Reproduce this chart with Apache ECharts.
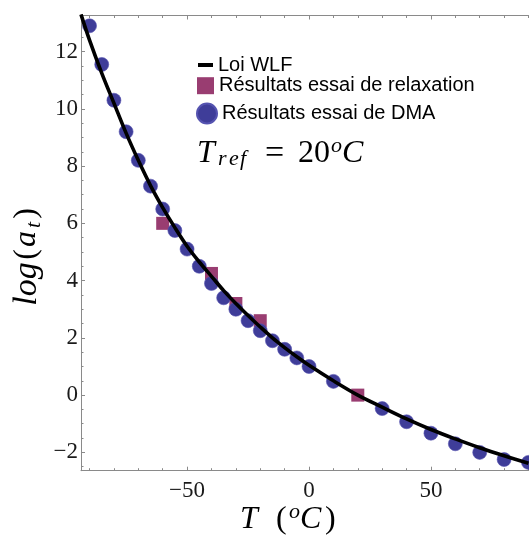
<!DOCTYPE html>
<html><head><meta charset="utf-8">
<script src="https://cdn.jsdelivr.net/npm/echarts@6/dist/echarts.min.js"></script>
<style>html,body{margin:0;padding:0;background:#fff}#c{width:529px;height:538px}</style>
</head><body><div id="c"></div>
<script>
// WLF law curve
const wlfT = [-93.5, -90, -85, -80, -75, -70, -65, -60, -55, -50, -45, -40, -35, -30, -25, -20, -15, -10, -5, 0, 10, 20, 30, 40, 50, 60, 70, 80, 90];
const wlfY = [13.3, 12.4, 11.25, 10.2, 9.15, 8.2, 7.32, 6.55, 5.85, 5.2, 4.65, 4.15, 3.65, 3.2, 2.78, 2.38, 2.0, 1.66, 1.34, 1.04, 0.5, 0.0, -0.42, -0.83, -1.2, -1.53, -1.84, -2.12, -2.38];
// relaxation results (squares)
const relaxT = [-60, -40, -30, -20, 20];
const relaxY = [6.0, 4.25, 3.2, 2.6, 0.0];
// DMA results (circles)
const dmaT = [-90, -85, -80, -75, -70, -65, -60, -55, -50, -45, -40, -35, -30, -25, -20, -15, -10, -5, 0, 10, 30, 40, 50, 60, 70, 80, 90];
const dmaY = [12.9, 11.55, 10.3, 9.2, 8.2, 7.3, 6.5, 5.75, 5.1, 4.5, 3.9, 3.4, 3.0, 2.6, 2.25, 1.9, 1.6, 1.3, 1.0, 0.48, -0.47, -0.93, -1.33, -1.7, -2.0, -2.25, -2.35];
// ticks
const xMajorTicks = [-50, 0, 50];
const xMinorTicks = [-90, -80, -70, -60, -40, -30, -20, -10, 10, 20, 30, 40, 60, 70, 80, 90];
const yMajorTicks = [-2, 0, 2, 4, 6, 8, 10, 12];
const yMinorTicks = [-2.5, -1.5, -1, -0.5, 0.5, 1, 1.5, 2.5, 3, 3.5, 4.5, 5, 5.5, 6.5, 7, 7.5, 8.5, 9, 9.5, 10.5, 11, 11.5, 12.5, 13];

const names = ['Loi WLF', 'Résultats essai de relaxation', 'Résultats essai de DMA'];
const X_MIN = -93.5, X_MAX = 90, Y_MIN = -2.64, Y_MAX = 13.26;
const AX = '#8a8a8a';
const fmt = v => String(v).replace('-', '\u2212');
const zip = (a, b) => a.map((v, i) => [v, b[i]]);

const serif = 'Liberation Serif';
const baseX = (pos, ticks, len, showLine, labels) => ({
  type: 'value', position: pos, min: X_MIN, max: X_MAX,
  axisLine: { show: showLine, onZero: false, lineStyle: { color: AX, width: 1 } },
  axisTick: { show: true, inside: true, length: len, customValues: ticks, lineStyle: { color: AX, width: 1 } },
  axisLabel: labels ? { show: true, customValues: xMajorTicks, formatter: fmt, margin: 9, fontFamily: serif, fontSize: 23, color: '#1a1a1a' } : { show: false },
  splitLine: { show: false }
});
const baseY = (ticks, len, showLine, labels) => ({
  type: 'value', position: 'left', min: Y_MIN, max: Y_MAX,
  axisLine: { show: showLine, onZero: false, lineStyle: { color: AX, width: 1 } },
  axisTick: { show: true, inside: true, length: len, customValues: ticks, lineStyle: { color: AX, width: 1 } },
  axisLabel: labels ? { show: true, customValues: yMajorTicks, formatter: fmt, margin: 3, fontFamily: serif, fontSize: 23, color: '#1a1a1a' } : { show: false },
  splitLine: { show: false }
});

const legendText = (extra) => Object.assign({ fontFamily: 'Liberation Sans', fontSize: 20, color: '#000', lineHeight: 20 }, extra || {});

const chart = echarts.init(document.getElementById('c'), null, { renderer: 'canvas' });
chart.setOption({
  animation: false,
  backgroundColor: '#fff',
  grid: { left: 81, right: 0.5, top: 15.5, bottom: 67.3, containLabel: false },
  xAxis: [
    baseX('bottom', xMajorTicks, 4, true, true),
    baseX('bottom', xMinorTicks, 2.5, false, false),
    baseX('top', xMajorTicks, 4, true, false),
    baseX('top', xMinorTicks, 2.5, false, false)
  ],
  yAxis: [
    baseY(yMajorTicks, 4, true, true),
    baseY(yMinorTicks, 2.5, false, false)
  ],
  legend: [
    { data: [{ name: names[0], icon: 'rect' }], left: 198, top: 55, padding: 0, itemWidth: 15, itemHeight: 4, selectedMode: false, textStyle: legendText() },
    { data: [{ name: names[1], icon: 'rect' }], left: 197, top: 71.7, padding: 0, itemWidth: 17, itemHeight: 17, selectedMode: false, textStyle: legendText({ padding: [8, 0, 0, 0] }) },
    { data: [{ name: names[2], icon: 'circle' }], left: 196, top: 102.5, padding: 0, itemWidth: 20, itemHeight: 20, selectedMode: false, textStyle: legendText({ padding: [2, 0, 0, 0] }) }
  ],
  series: [
    { name: names[1], type: 'scatter', symbol: 'rect', symbolSize: 13, data: zip(relaxT, relaxY), itemStyle: { color: '#993d71', opacity: 1 }, z: 2 },
    { name: names[2], type: 'scatter', symbol: 'circle', symbolSize: 14, data: zip(dmaT, dmaY), itemStyle: { color: '#3f3d99', opacity: 1, borderColor: '#5553b0', borderWidth: 0.6 }, z: 3 },
    { name: names[0], type: 'line', smooth: 0.35, symbol: 'none', showSymbol: false, clip: true, data: zip(wlfT, wlfY), color: '#000', lineStyle: { color: '#000', width: 3.6 }, z: 4 }
  ],
  graphic: [
    { type: 'text', x: 197, y: 154, z: 100, style: {
        text: '{T|T}{r|r}{e|e}{f|f}{eq|=}{n|20}{o|o}{C|C}',
        align: 'left', verticalAlign: 'middle', textAlign: 'left', textVerticalAlign: 'middle',
        rich: {
          T: { fontFamily: serif, fontStyle: 'italic', fontSize: 32, width: 21, fill: '#000' },
          r: { fontFamily: serif, fontStyle: 'italic', fontSize: 22, width: 11, padding: [10, 0, 0, 0], fill: '#000' },
          e: { fontFamily: serif, fontStyle: 'italic', fontSize: 22, width: 11, padding: [10, 0, 0, 0], fill: '#000' },
          f: { fontFamily: serif, fontStyle: 'italic', fontSize: 22, width: 25, padding: [10, 0, 0, 0], fill: '#000' },
          eq: { fontFamily: serif, fontSize: 34, width: 33, fill: '#000' },
          n: { fontFamily: serif, fontSize: 32, width: 33, fill: '#000' },
          o: { fontFamily: serif, fontStyle: 'italic', fontSize: 22, width: 11, padding: [0, 0, 16, 0], fill: '#000' },
          C: { fontFamily: serif, fontStyle: 'italic', fontSize: 32, fill: '#000' }
        } } },
    { type: 'text', x: 240, y: 520, z: 100, style: {
        text: '{T|T}{p|(}{o|o}{C|C}{p|)}',
        align: 'left', verticalAlign: 'middle', textAlign: 'left', textVerticalAlign: 'middle',
        rich: {
          T: { fontFamily: serif, fontStyle: 'italic', fontSize: 32, width: 36, fill: '#000' },
          p: { fontFamily: serif, fontSize: 32, width: 13, fill: '#000' },
          o: { fontFamily: serif, fontStyle: 'italic', fontSize: 22, width: 11, padding: [0, 0, 16, 0], fill: '#000' },
          C: { fontFamily: serif, fontStyle: 'italic', fontSize: 32, width: 25, fill: '#000' }
        } } },
    { type: 'text', x: 27, y: 257, rotation: Math.PI / 2, z: 100, style: {
        text: '{l|log}{p|(}{a|a}{t|t}{p|)}',
        align: 'center', verticalAlign: 'middle', textAlign: 'center', textVerticalAlign: 'middle',
        rich: {
          l: { fontFamily: serif, fontStyle: 'italic', fontSize: 34, width: 46, fill: '#000' },
          p: { fontFamily: serif, fontSize: 32, width: 13, fill: '#000' },
          a: { fontFamily: serif, fontStyle: 'italic', fontSize: 32, width: 18, fill: '#000' },
          t: { fontFamily: serif, fontStyle: 'italic', fontSize: 22, width: 10, padding: [14, 0, 0, 0], fill: '#000' }
        } } }
  ]
});
</script>
</body></html>
